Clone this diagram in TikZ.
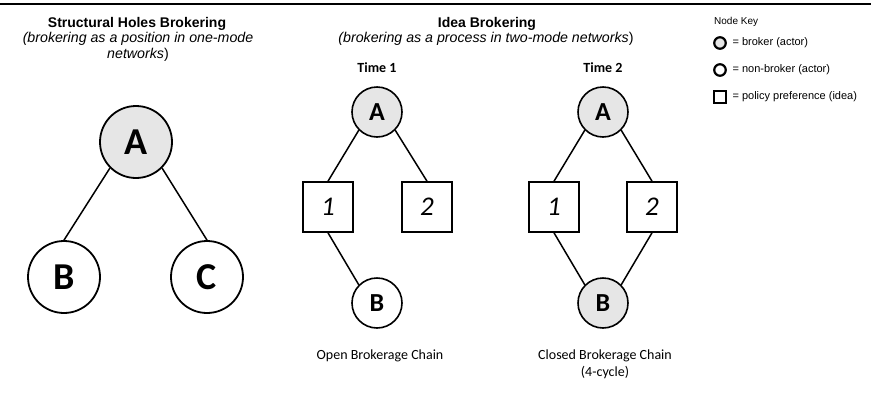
\documentclass[tikz,border=0pt]{standalone}
\usepackage{fontspec}
\setmainfont{Liberation Sans}
\newfontfamily\calibri{Carlito}
\usetikzlibrary{positioning}
\definecolor{brokergray}{RGB}{230,230,230}
\begin{document}
\begin{tikzpicture}[x=1pt,y=-1pt,
      every node/.style={font=\calibri},
      title/.style={anchor=base,font=\rmfamily\bfseries\fontsize{14}{16}\selectfont},
      subtitle/.style={anchor=base,align=center,font=\rmfamily\itshape\fontsize{14.2}{16}\selectfont},
      caption/.style={anchor=base,align=center,font=\calibri\fontsize{14}{17}\selectfont},
      timelabel/.style={anchor=base,font=\calibri\bfseries\fontsize{14}{16}\selectfont},
      bignode/.style={circle,draw,line width=1.8pt,inner sep=0pt,minimum size=72pt,
        font=\calibri\bfseries\fontsize{38}{38}\selectfont},
      actor/.style={circle,draw,line width=1.6pt,inner sep=0pt,minimum size=50pt,
        font=\calibri\bfseries\fontsize{26}{26}\selectfont},
      broker/.style={actor,fill=brokergray},
      idea/.style={rectangle,draw,line width=1.6pt,inner sep=0pt,minimum size=50pt,
        font=\calibri\itshape\fontsize{27}{27}\selectfont},
      tie/.style={line width=1.5pt},
      keytext/.style={anchor=west,inner sep=0pt,font=\rmfamily\fontsize{11}{13}\selectfont},
      keymark/.style={draw,line width=2.2pt,inner sep=0pt,minimum size=11.5pt}]
    \useasboundingbox (0,0) rectangle (871,413);
    \draw[line width=2.7pt] (0,4) -- (871,4);                  % top rule

    % Structural holes brokering
    \node[title] (TSH) at (137,27) {Structural Holes Brokering};
    \node[subtitle] (SSH) at (138,58) {(brokering as a position in one-mode\\networks\upshape)};
    \node[bignode,fill=brokergray] (A) at (136,142) {A};
    \node[bignode] (B) at (64,277) {B};
    \node[bignode] (C) at (207,277) {C};
    \draw[tie] (A.south west) -- (B.north);
    \draw[tie] (A.south east) -- (C.north);

    % Idea brokering
    \node[title] (TIB) at (487,27) {Idea Brokering};
    \node[subtitle] (SIB) at (486,42) {(brokering as a process in two-mode networks\upshape)};

    % Time 1: open chain
    \node[timelabel] (TM1) at (377,72) {Time 1};
    \node[broker] (A1) at (377,112) {A};
    \node[idea] (I11) at (328,207) {1};
    \node[idea] (I12) at (427,207) {2};
    \node[actor] (B1) at (377,303) {B};
    \draw[tie] (A1.south west) -- (I11.north);
    \draw[tie] (A1.south east) -- (I12.north);
    \draw[tie] (I11.south) -- (B1.north west);
    \node[caption] (CP1) at (380,359) {Open Brokerage Chain};

    % Time 2: closed chain
    \node[timelabel] (TM2) at (603,72) {Time 2};
    \node[broker] (A2) at (603,112) {A};
    \node[idea] (I21) at (554,207) {1};
    \node[idea] (I22) at (652,207) {2};
    \node[broker] (B2) at (603,303) {B};
    \draw[tie] (A2.south west) -- (I21.north);
    \draw[tie] (A2.south east) -- (I22.north);
    \draw[tie] (I21.south) -- (B2.north west);
    \draw[tie] (I22.south) -- (B2.north east);
    \node[caption] (CP2) at (605,376) {Closed Brokerage Chain\\(4-cycle)};

    % Node key
    \node[keytext,font=\rmfamily\fontsize{10}{12}\selectfont] (KEY) at (714,22) {Node Key};
    \node[keymark,circle,fill=brokergray] (KB) at (720,43) {};
    \node[keytext,right=5.5pt of KB] (KBT) {= broker (actor)};
    \node[keymark,circle] (KN) at (720,70) {};
    \node[keytext,right=5.5pt of KN] (KNT) {= non-broker (actor)};
    \node[keymark,rectangle] (KP) at (720,97) {};
    \node[keytext,right=5.5pt of KP] (KPT) {= policy preference (idea)};
\end{tikzpicture}
\end{document}
